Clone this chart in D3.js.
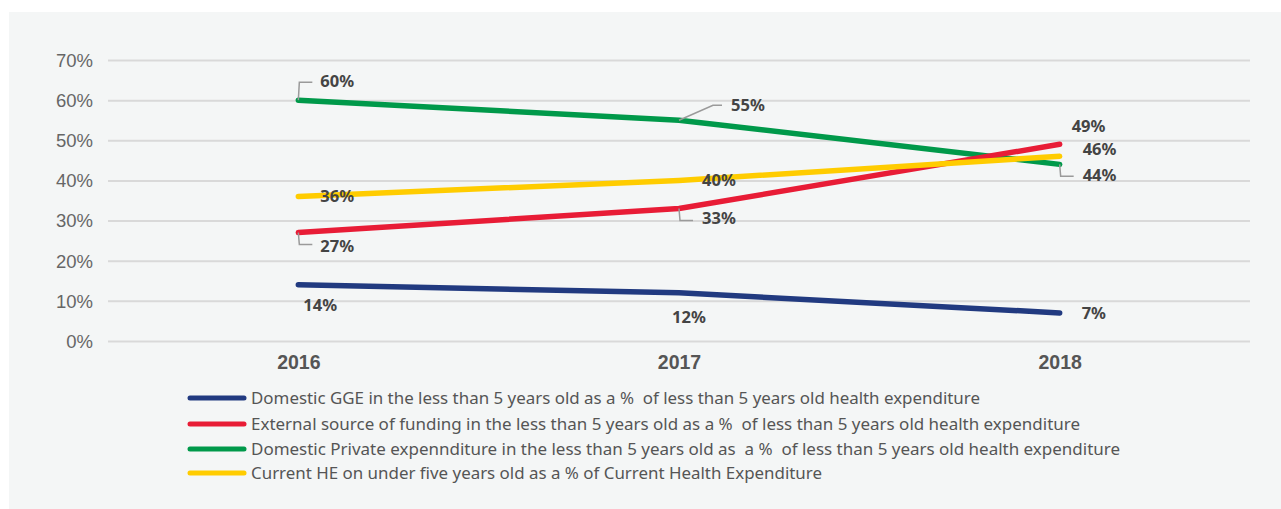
<!DOCTYPE html>
<html>
<head>
<meta charset="utf-8">
<script src="https://cdn.jsdelivr.net/npm/d3@7"></script>
<style>
  html, body { margin: 0; padding: 0; background: #ffffff; }
  svg { display: block; font-family: "Noto Sans", "Open Sans", sans-serif; }
  text { white-space: pre; }
</style>
</head>
<body>
<svg id="chart" width="1281" height="509"></svg>
<script>
// Years along the x axis
const years = ["2016", "2017", "2018"];

// Series values, in percent
const domesticGGE = [14, 12, 7];
const externalFunding = [27, 33, 49];
const domesticPrivate = [60, 55, 44];
const currentHE = [36, 40, 46];

// Legend text for each series
const seriesNames = [
  "Domestic GGE in the less than 5 years old as a %  of less than 5 years old health expenditure",
  "External source of funding in the less than 5 years old as a %  of less than 5 years old health expenditure",
  "Domestic Private expennditure in the less than 5 years old as  a %  of less than 5 years old health expenditure",
  "Current HE on under five years old as a % of Current Health Expenditure"
];

// Y axis ticks
const yTicks = [0, 10, 20, 30, 40, 50, 60, 70];

const series = [
  { name: seriesNames[0], values: domesticGGE, color: "#213a80" },
  { name: seriesNames[1], values: externalFunding, color: "#e81c36" },
  { name: seriesNames[2], values: domesticPrivate, color: "#00994a" },
  { name: seriesNames[3], values: currentHE, color: "#ffcc00" }
];

// Placement of each value label relative to its point: [dx, dy(baseline), leader?]
const labelLayout = [
  [[5, 26, null], [-7, 30, null], [22, 6, null]],
  [[22, 19, "down"], [23, 15, "down"], [12, -12, null]],
  [[22, -13, "up"], [52, -9, "slant"], [23, 17, "down"]],
  [[22, 6, null], [23, 6, null], [23, -1, null]]
];

// Rendered width of each legend entry
const legendWidths = [729, 829, 869, 571];

const svg = d3.select("#chart");
const W = 1281, H = 509;

// light panel behind the chart
svg.append("rect")
  .attr("x", 9).attr("y", 12)
  .attr("width", W - 9).attr("height", H - 12)
  .attr("fill", "#f4f6f6");

const x = d3.scalePoint().domain(years).range([108, 1250]).padding(0.5);
const y = d3.scaleLinear().domain([0, 70]).range([341, 60]);

// gridlines and y tick labels
const yAxis = d3.axisLeft(y)
  .tickValues(yTicks)
  .tickSize(-(1250 - 108))
  .tickPadding(14)
  .tickFormat(d => d + "%");

const gy = svg.append("g").attr("transform", "translate(108,0)").call(yAxis);
gy.select(".domain").remove();
gy.selectAll(".tick line").attr("stroke", "#d9d9d9").attr("stroke-width", 2);
gy.selectAll(".tick text")
  .attr("fill", "#666")
  .style("font-size", "18.5px")
  .attr("x", -15)
  .attr("dy", "0.34em");

// x axis year labels
const xAxis = d3.axisBottom(x).tickSize(0).tickPadding(12);
const gx = svg.append("g").attr("transform", "translate(0,353)").call(xAxis);
gx.select(".domain").remove();
gx.selectAll(".tick text")
  .attr("fill", "#555")
  .style("font-size", "19.5px")
  .style("font-weight", "bold")
  .attr("dy", "0.2em");

// series lines
const line = d3.line()
  .x((d, i) => x(years[i]))
  .y(d => y(d))
  .curve(d3.curveLinear);

const drawOrder = [0, 2, 1, 3];
drawOrder.forEach(k => {
  const s = series[k];
  svg.append("path")
    .datum(s.values)
    .attr("d", line)
    .attr("fill", "none")
    .attr("stroke", s.color)
    .attr("stroke-width", 5.5)
    .attr("stroke-linecap", "round")
    .attr("stroke-linejoin", "round");
});

// value labels with leader lines
const labels = svg.append("g");
series.forEach((s, k) => {
  s.values.forEach((v, i) => {
    const px = x(years[i]), py = y(v);
    const [dx, dy, leader] = labelLayout[k][i];
    if (leader === "up") {
      labels.append("path")
        .attr("d", `M${px},${py} L${px + 1},${py - 18} L${px + 14},${py - 18}`)
        .attr("fill", "none").attr("stroke", "#9a9a9a").attr("stroke-width", 1.5);
    } else if (leader === "down") {
      labels.append("path")
        .attr("d", `M${px},${py} L${px + 1},${py + 12} L${px + 14},${py + 12}`)
        .attr("fill", "none").attr("stroke", "#9a9a9a").attr("stroke-width", 1.5);
    } else if (leader === "slant") {
      labels.append("path")
        .attr("d", `M${px},${py} L${px + 34},${py - 15} L${px + 43},${py - 15}`)
        .attr("fill", "none").attr("stroke", "#9a9a9a").attr("stroke-width", 1.5);
    }
    labels.append("text")
      .attr("x", px + dx)
      .attr("y", py + dy)
      .attr("fill", "#444")
      .style("font-size", "16.5px")
      .style("font-weight", "bold")
      .text(v + "%");
  });
});

// legend
const legend = svg.append("g");
const legendY = [398, 424, 449, 473];
series.forEach((s, k) => {
  legend.append("line")
    .attr("x1", 190).attr("x2", 244)
    .attr("y1", legendY[k]).attr("y2", legendY[k])
    .attr("stroke", s.color)
    .attr("stroke-width", 5)
    .attr("stroke-linecap", "round");
  legend.append("text")
    .attr("x", 251)
    .attr("y", legendY[k])
    .attr("dy", "0.35em")
    .attr("fill", "#555")
    .style("font-size", "16.5px")
    .attr("textLength", legendWidths[k])
    .attr("lengthAdjust", "spacingAndGlyphs")
    .text(s.name);
});
</script>
</body>
</html>
